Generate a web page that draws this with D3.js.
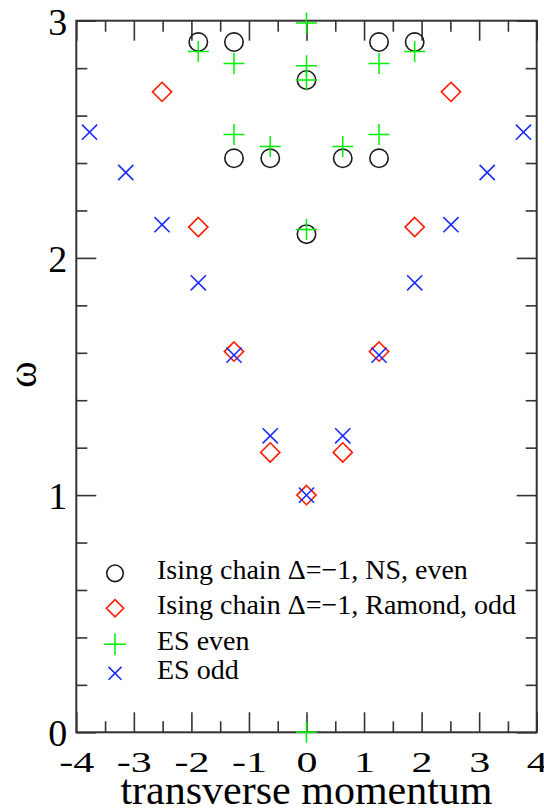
<!DOCTYPE html>
<html>
<head>
<meta charset="utf-8">
<script src="https://cdn.jsdelivr.net/npm/d3@7"></script>
<style>
  html, body { margin: 0; padding: 0; background: #fff; }
  svg { display: block; }
  text { font-family: "Liberation Serif", "DejaVu Serif", serif; fill: #000; }
</style>
</head>
<body>
<svg id="chart" width="544" height="809"></svg>
<script>
// Spectrum: energy ω versus transverse momentum k = 2πn/10
const nsEvenK   = [-1.88, -1.26, 1.26, 1.88, 0, -1.26, -0.63, 0.63, 1.26, 0];
const nsEvenW   = [2.91, 2.91, 2.91, 2.91, 2.75, 2.42, 2.42, 2.42, 2.42, 2.10];

const ramondOddK = [-2.51, 2.51, -1.88, 1.88, -1.26, 1.26, -0.63, 0.63, 0];
const ramondOddW = [2.70, 2.70, 2.13, 2.13, 1.605, 1.605, 1.18, 1.18, 1.00];

const esEvenK = [0, -1.88, 1.88, -1.26, 1.26, 0, 0, -1.26, 1.26, -0.63, 0.63, 0, 0];
const esEvenW = [2.99, 2.87, 2.87, 2.82, 2.82, 2.81, 2.75, 2.52, 2.52, 2.47, 2.47, 2.12, 0];

const esOddK = [-3.77, 3.77, -3.14, 3.14, -2.51, 2.51, -1.88, 1.88, -1.26, 1.26, -0.63, 0.63, 0];
const esOddW = [2.53, 2.53, 2.36, 2.36, 2.14, 2.14, 1.895, 1.895, 1.59, 1.59, 1.25, 1.25, 1.00];

const seriesNames = [
  "Ising chain \u0394=\u22121, NS, even",
  "Ising chain \u0394=\u22121, Ramond, odd",
  "ES even",
  "ES odd"
];

const xTicks = [-4, -3, -2, -1, 0, 1, 2, 3, 4];
const yTicks = [0, 1, 2, 3];

// ---- layout ----
const margin = { left: 76.3, right: 536.7, top: 20.7, bottom: 732.3 };
const svg = d3.select("#chart");

const x = d3.scaleLinear().domain([-4, 4]).range([margin.left, margin.right]);
const y = d3.scaleLinear().domain([0, 3]).range([margin.bottom, margin.top]);

const axisColor = "#333";
const majorLen = 20, minorLen = 11;

// minor tick positions
const xMinor = d3.range(-3.5, 4, 1);
const yMinor = d3.range(0, 3.0001, 0.2).filter(v => Math.abs(v - Math.round(v)) > 1e-6);

function styleAxis(g) {
  g.select(".domain").remove();
  g.selectAll(".tick line").attr("stroke", axisColor).attr("stroke-width", 1.6);
}

// bottom axis with labels (inward ticks)
const gBottom = svg.append("g").attr("transform", `translate(0,${margin.bottom})`)
  .call(d3.axisBottom(x).tickValues(xTicks).tickSize(-majorLen).tickPadding(0)
        .tickFormat(d => String(d)));
styleAxis(gBottom);
gBottom.selectAll(".tick text")
  .attr("y", 40).attr("dy", 0)
  .attr("font-size", 30)
  .attr("transform", "scale(1.4,1)")
  .attr("fill", "#000");
svg.append("g").attr("transform", `translate(0,${margin.bottom})`)
  .call(d3.axisBottom(x).tickValues(xMinor).tickSize(-minorLen).tickFormat(""))
  .call(styleAxis);

// top axis
svg.append("g").attr("transform", `translate(0,${margin.top})`)
  .call(d3.axisTop(x).tickValues(xTicks).tickSize(-majorLen).tickFormat(""))
  .call(styleAxis);
svg.append("g").attr("transform", `translate(0,${margin.top})`)
  .call(d3.axisTop(x).tickValues(xMinor).tickSize(-minorLen).tickFormat(""))
  .call(styleAxis);

// left axis with labels
const gLeft = svg.append("g").attr("transform", `translate(${margin.left},0)`)
  .call(d3.axisLeft(y).tickValues(yTicks).tickSize(-majorLen).tickPadding(0)
        .tickFormat(d => String(d)));
styleAxis(gLeft);
gLeft.selectAll(".tick text")
  .attr("x", -9).attr("dy", "0.35em")
  .attr("font-size", 38)
  .attr("fill", "#000");
svg.append("g").attr("transform", `translate(${margin.left},0)`)
  .call(d3.axisLeft(y).tickValues(yMinor).tickSize(-minorLen).tickFormat(""))
  .call(styleAxis);

// right axis
svg.append("g").attr("transform", `translate(${margin.right},0)`)
  .call(d3.axisRight(y).tickValues(yTicks).tickSize(-majorLen).tickFormat(""))
  .call(styleAxis);
svg.append("g").attr("transform", `translate(${margin.right},0)`)
  .call(d3.axisRight(y).tickValues(yMinor).tickSize(-minorLen).tickFormat(""))
  .call(styleAxis);

// frame
svg.append("rect")
  .attr("x", margin.left).attr("y", margin.top)
  .attr("width", margin.right - margin.left)
  .attr("height", margin.bottom - margin.top)
  .attr("fill", "none").attr("stroke", axisColor).attr("stroke-width", 2);

// ---- symbols ----
const sym = {
  circle:  r => `M${r},0A${r},${r} 0 1,1 ${-r},0A${r},${r} 0 1,1 ${r},0Z`,
  diamond: r => `M0,${-r}L${r},0L0,${r}L${-r},0Z`,
  plus:    r => `M${-r},0H${r}M0,${-r}V${r}`,
  cross:   r => `M${-r},${-r}L${r},${r}M${-r},${r}L${r},${-r}`
};

const series = [
  { k: nsEvenK,    w: nsEvenW,    shape: "circle",  size: 9.2,  color: "#1a1a1a", width: 1.6 },
  { k: ramondOddK, w: ramondOddW, shape: "diamond", size: 9.6,  color: "#ff1a00", width: 1.6 },
  { k: esEvenK,    w: esEvenW,    shape: "plus",    size: 10.5, color: "#00f000", width: 1.5 },
  { k: esOddK,     w: esOddW,     shape: "cross",   size: 7.6,  color: "#1a2aff", width: 1.6 }
];

const plot = svg.append("g");
series.forEach(s => {
  plot.append("g").selectAll("path")
    .data(s.k.map((k, i) => [k, s.w[i]]))
    .join("path")
    .attr("transform", d => `translate(${x(d[0])},${y(d[1])})`)
    .attr("d", sym[s.shape](s.size))
    .attr("fill", "none")
    .attr("stroke", s.color)
    .attr("stroke-width", s.width);
});

// ---- legend ----
const legendRows = [573.3, 608.3, 644.3, 673.3];
const legendScale = [0.9, 0.9, 1.05, 0.85];
const legend = svg.append("g");
series.forEach((s, i) => {
  legend.append("path")
    .attr("transform", `translate(115,${legendRows[i]})`)
    .attr("d", sym[s.shape](s.size * legendScale[i]))
    .attr("fill", "none")
    .attr("stroke", s.color)
    .attr("stroke-width", s.width);
  legend.append("text")
    .attr("x", 157)
    .attr("y", legendRows[i] + 5.5)
    .attr("font-size", 28)
    .text(seriesNames[i]);
});

// ---- axis titles ----
svg.append("text")
  .attr("x", (margin.left + margin.right) / 2)
  .attr("y", 804)
  .attr("text-anchor", "middle")
  .attr("font-size", 42)
  .text("transverse momentum");

svg.append("text")
  .attr("transform", `translate(36,${(margin.top + margin.bottom) / 2 - 2}) rotate(-90)`)
  .attr("text-anchor", "middle")
  .attr("font-size", 40)
  .text("\u03c9");
</script>
</body>
</html>
